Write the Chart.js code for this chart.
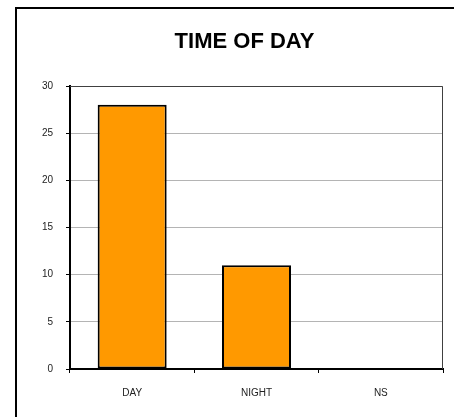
<!DOCTYPE html>
<html>
<head>
<meta charset="utf-8">
<script src="https://cdn.jsdelivr.net/npm/chart.js@4/dist/chart.umd.min.js"></script>
<style>
  html, body { margin: 0; padding: 0; background: #fff; overflow: hidden; }
  #frame {
    position: absolute; left: 15px; top: 7px;
    width: 460px; height: 430px;
    border: 2px solid #000; background: #fff;
  }
  #chart { position: absolute; left: 0; top: 0; }
</style>
</head>
<body>
<div id="frame"></div>
<canvas id="chart" width="454" height="417"></canvas>
<script>
// Incidents by time of day
const chartTitle = 'TIME OF DAY';
const categories = ['DAY', 'NIGHT', 'NS'];
const counts = [28, 11, 0];
const yMin = 0;
const yMax = 30;
const yStep = 5;

const FONT = '"Liberation Sans", Arial, sans-serif';

// Dark frame along the top and right of the plot area
const plotFrame = {
  id: 'plotFrame',
  beforeDatasetsDraw(chart) {
    const { ctx, chartArea: a } = chart;
    ctx.save();
    ctx.strokeStyle = '#404040';
    ctx.lineWidth = 1;
    ctx.beginPath();
    ctx.moveTo(a.left, a.top + 0.5);
    ctx.lineTo(a.right - 0.5, a.top + 0.5);
    ctx.lineTo(a.right - 0.5, a.bottom);
    ctx.stroke();
    ctx.restore();
  }
};

// Heading centred over the framed panel
const heading = {
  id: 'heading',
  afterDraw(chart) {
    const { ctx } = chart;
    ctx.save();
    ctx.fillStyle = '#000';
    ctx.font = 'bold 22px ' + FONT;
    ctx.textAlign = 'center';
    ctx.textBaseline = 'alphabetic';
    ctx.fillText(chartTitle, 244.5, 47.5);
    ctx.restore();
  }
};

new Chart(document.getElementById('chart'), {
  type: 'bar',
  data: {
    labels: categories,
    datasets: [{
      data: counts,
      backgroundColor: '#FF9900',
      borderColor: '#000000',
      borderWidth: 2,
      borderSkipped: false,
      categoryPercentage: 1,
      barPercentage: 0.555
    }]
  },
  options: {
    responsive: false,
    devicePixelRatio: 1,
    animation: false,
    layout: { padding: { top: 86, left: 0, right: 11, bottom: 0 } },
    plugins: {
      legend: { display: false },
      tooltip: { enabled: false },
      title: { display: false }
    },
    scales: {
      x: {
        afterFit(scale) { scale.height = 48; },
        grid: {
          offset: true,
          drawOnChartArea: false,
          drawTicks: true,
          tickLength: 4,
          tickColor: '#000'
        },
        border: { display: true, color: '#000', width: 2 },
        ticks: {
          color: '#222',
          font: { family: FONT, size: 10 },
          padding: 14,
          maxRotation: 0
        }
      },
      y: {
        min: yMin,
        max: yMax,
        afterFit(scale) { scale.width = 70; },
        grid: {
          color: '#b4b4b4',
          lineWidth: 1,
          drawTicks: true,
          tickLength: 4,
          tickColor: '#000'
        },
        border: { display: true, color: '#000', width: 2 },
        ticks: {
          stepSize: yStep,
          color: '#222',
          font: { family: FONT, size: 10 },
          padding: 13
        }
      }
    }
  },
  plugins: [plotFrame, heading]
});
</script>
</body>
</html>
